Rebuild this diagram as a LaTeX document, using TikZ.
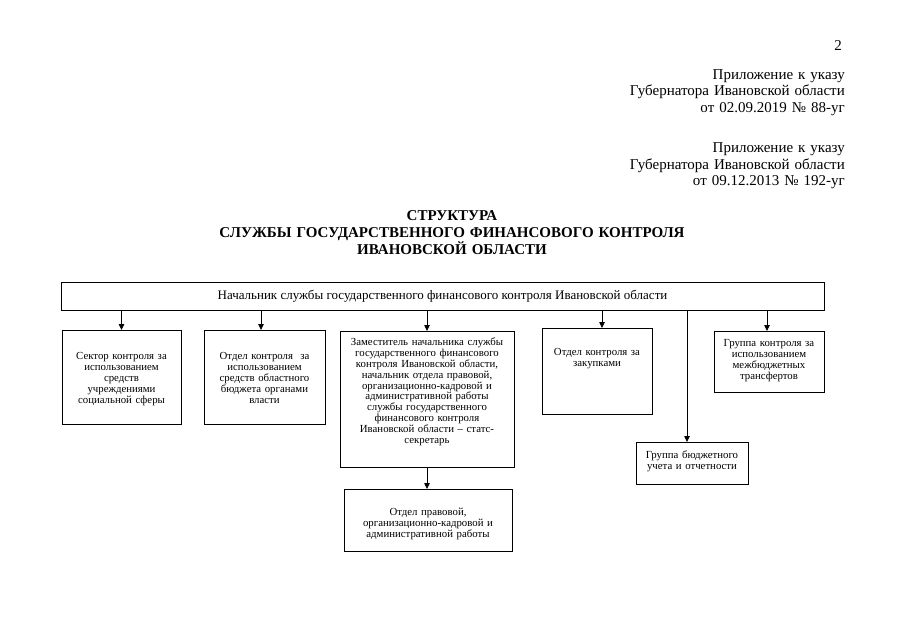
\documentclass[tikz,border=0pt]{standalone}
\usepackage{fontspec}
\setmainfont{Liberation Serif}
\usetikzlibrary{arrows,arrows.meta}

\begin{document}
\begin{tikzpicture}[
x=1pt,y=-1pt,
hdr/.style={font=\fontsize{15}{16.5}\selectfont,inner sep=0pt,text width=300pt,align=right,anchor=base east},
ttl/.style={font=\fontsize{15}{17}\selectfont\bfseries,inner sep=0pt,text width=520pt,align=center,anchor=base},
chief/.style={draw,line width=0.8pt,font=\fontsize{13}{15}\selectfont,minimum width=763pt,minimum height=28pt,inner sep=0pt},
unit/.style={draw,line width=0.8pt,font=\fontsize{10.8}{10.9}\selectfont,align=center,inner xsep=3pt,inner ysep=3pt,anchor=north},
arrow/.style={-{Triangle[length=6pt,width=5.5pt]},line width=0.8pt} ]

\useasboundingbox (0,0) rectangle (905,640);

\node[font=\fontsize{15}{16.5}\selectfont,inner sep=0pt,anchor=base](pg) at (838,50) {2};

\node[hdr](app1) at (845,79) {Приложение к указу\\Губернатора Ивановской области\\от 02.09.2019 № 88-уг};

\node[hdr](app2) at (845,152.5) {Приложение к указу\\Губернатора Ивановской области\\от 09.12.2013 № 192-уг};

\node[ttl](title) at (452,220) {СТРУКТУРА\\СЛУЖБЫ ГОСУДАРСТВЕННОГО ФИНАНСОВОГО КОНТРОЛЯ\\ИВАНОВСКОЙ ОБЛАСТИ};

\node[chief](head) at (442.5,296) {Начальник службы государственного финансового контроля Ивановской области};

\node[unit,text width=113pt,text height=26pt,text depth=62pt](sect) at (121.5,330) {Сектор контроля за\\использованием\\средств\\учреждениями\\социальной сферы};

\node[unit,text width=115pt,text height=26pt,text depth=62pt](budg) at (264.5,330) {Отдел контроля\ \ за\\использованием\\средств областного\\бюджета органами\\власти};

\node[unit,text width=168pt,text height=11pt,text depth=119pt](depu) at (427,331) {Заместитель начальника службы\\государственного финансового\\контроля Ивановской области,\\начальник отдела правовой,\\организационно-кадровой и\\административной работы\\службы государственного\\финансового контроля\\Ивановской области – статс-\\секретарь};

\node[unit,text width=104pt,text height=24pt,text depth=56pt](proc) at (597,328) {Отдел контроля за\\закупками};

\node[unit,text width=104pt,text height=12pt,text depth=43pt](trans) at (769,331) {Группа контроля за\\использованием\\межбюджетных\\трансфертов};

\node[unit,text width=106pt,text height=13pt,text depth=23pt](acct) at (692,442) {Группа бюджетного\\учета и отчетности};

\node[unit,text width=162pt,text height=23pt,text depth=33pt](legal) at (428,489) {Отдел правовой,\\организационно-кадровой и\\административной работы};

\draw[arrow] (sect.north |- head.south) -- (sect.north);

\draw[arrow] ([xshift=-3.5pt]budg.north |- head.south) -- ([xshift=-3.5pt]budg.north);

\draw[arrow] (depu.north |- head.south) -- (depu.north);

\draw[arrow] ([xshift=5pt]proc.north |- head.south) -- ([xshift=5pt]proc.north);

\draw[arrow] ([xshift=-2pt]trans.north |- head.south) -- ([xshift=-2pt]trans.north);

\draw[arrow] ([xshift=-5pt]acct.north |- head.south) -- ([xshift=-5pt]acct.north);

\draw[arrow] (depu.south) -- (depu.south |- legal.north);

\end{tikzpicture}
\end{document}
